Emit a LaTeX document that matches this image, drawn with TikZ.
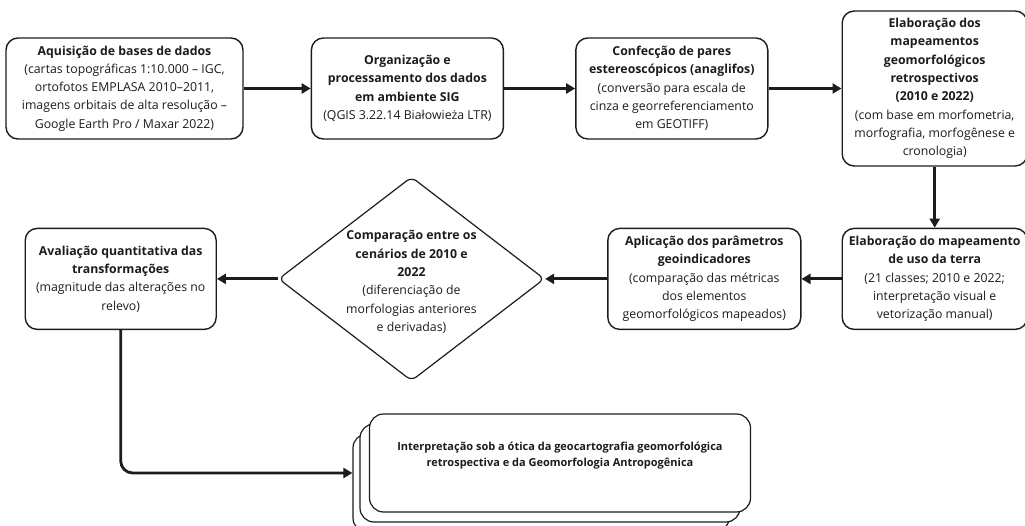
\documentclass[tikz,border=0pt]{standalone}
\usepackage{fontspec}
\setmainfont{Open Sans}
\usetikzlibrary{arrows.meta, shapes.geometric, positioning}
\usepackage{xcolor}
\definecolor{ink} {HTML}{1C1C1C}
\definecolor{card}{HTML}{FFFFFF}
\tikzset{
  box/.style     = {draw=ink, line width=1.4pt, rounded corners=12pt,
                    fill=card, align=center, inner sep=2pt, text=ink,
                    minimum height=101pt,
                    font=\fontsize{12.3pt}{18.3pt}\selectfont},
  dia/.style     = {draw=ink, line width=1.2pt, diamond, rounded corners=6pt,
                    fill=card, inner sep=0pt,
                    minimum width=266pt, minimum height=204pt},
  diatext/.style = {align=center, text=ink,
                    font=\fontsize{12.3pt}{18.3pt}\selectfont},
  docbox/.style  = {draw=ink, line width=1.2pt, rounded corners=14pt,
                    fill=card, minimum height=98pt},
  doctext/.style = {align=center, text=ink,
                    font=\bfseries\fontsize{11pt}{15.5pt}\selectfont},
  arr/.style     = {-{Triangle[length=9pt, width=10pt]}, line width=2.8pt, ink},
}

\begin{document}
\begin{tikzpicture}[x=1pt, y=-1pt]
  \useasboundingbox (0,0) rectangle (1025,526);

  % top row
  \node[box, minimum width=237pt] (acq) at (124.5,88.5)
    {\textbf{Aquisição de bases de dados}\\
     (cartas topográficas 1:10.000 – IGC,\\
     ortofotos EMPLASA 2010–2011,\\
     imagens orbitais de alta resolução –\\
     Google Earth Pro / Maxar 2022)};
  \node[box, minimum width=192pt, right=67pt of acq] (org)
    {\textbf{Organização e}\\\textbf{processamento dos dados}\\
     \textbf{em ambiente SIG}\\
     (QGIS 3.22.14 Białowieża LTR)};
  \node[box, minimum width=192pt, right=71pt of org] (conf)
    {\textbf{Confecção de pares}\\\textbf{estereoscópicos (anaglifos)}\\
     (conversão para escala de\\cinza e georreferenciamento\\em GEOTIFF)};
  \node[box, minimum width=185pt, minimum height=155pt, right=73pt of conf] (geo)
    {\textbf{Elaboração dos}\\\textbf{mapeamentos}\\\textbf{geomorfológicos}\\
     \textbf{retrospectivos}\\\textbf{(2010 e 2022)}\\
     (com base em morfometria,\\morfografia, morfogênese e\\cronologia)};

  % second row, right to left
  \node[box, minimum width=185pt, below=61pt of geo] (uso)
    {\textbf{Elaboração do mapeamento}\\\textbf{de uso da terra}\\
     (21 classes; 2010 e 2022;\\interpretação visual e\\vetorização manual)};
  \node[box, minimum width=193pt, left=40pt of uso] (apl)
    {\textbf{Aplicação dos parâmetros}\\\textbf{geoindicadores}\\
     (comparação das métricas\\dos elementos\\geomorfológicos mapeados)};
  \node[dia, left=62pt of apl] (comp) {};
  \node[diatext] (comptext) at ([yshift=-3pt]comp.center)
    {\textbf{Comparação entre os}\\\textbf{cenários de 2010 e}\\\textbf{2022}\\
     (diferenciação de\\morfologias anteriores\\e derivadas)};
  \node[box, minimum width=191pt, left=61pt of comp] (aval)
    {\textbf{Avaliação quantitativa das}\\\textbf{transformações}\\
     (magnitude das alterações no\\relevo)};

  % stacked result
  \node[docbox, minimum width=376pt] (docc) at (541,483) {};
  \node[docbox, minimum width=380pt] (docb) at (550,473) {};
  \node[docbox, minimum width=381pt] (doc)  at (560,463) {};
  \node[doctext] (doclabel) at ([yshift=7.5pt]doc.center)
    {Interpretação sob a ótica da geocartografia geomorfológica\\
     retrospectiva e da Geomorfologia Antropogênica};

  % arrows
  \draw[arr] (acq)  -- (org);
  \draw[arr] (org)  -- (conf);
  \draw[arr] (conf) -- (geo);
  \draw[arr] (geo)  -- (uso);
  \draw[arr] (uso)  -- (apl);
  \draw[arr] (apl)  -- (comp);
  \draw[arr] (comp) -- (aval);
  \draw[arr, rounded corners=12pt] (aval.south) |- (docc.west |- docb.center);

\end{tikzpicture}
\end{document}
